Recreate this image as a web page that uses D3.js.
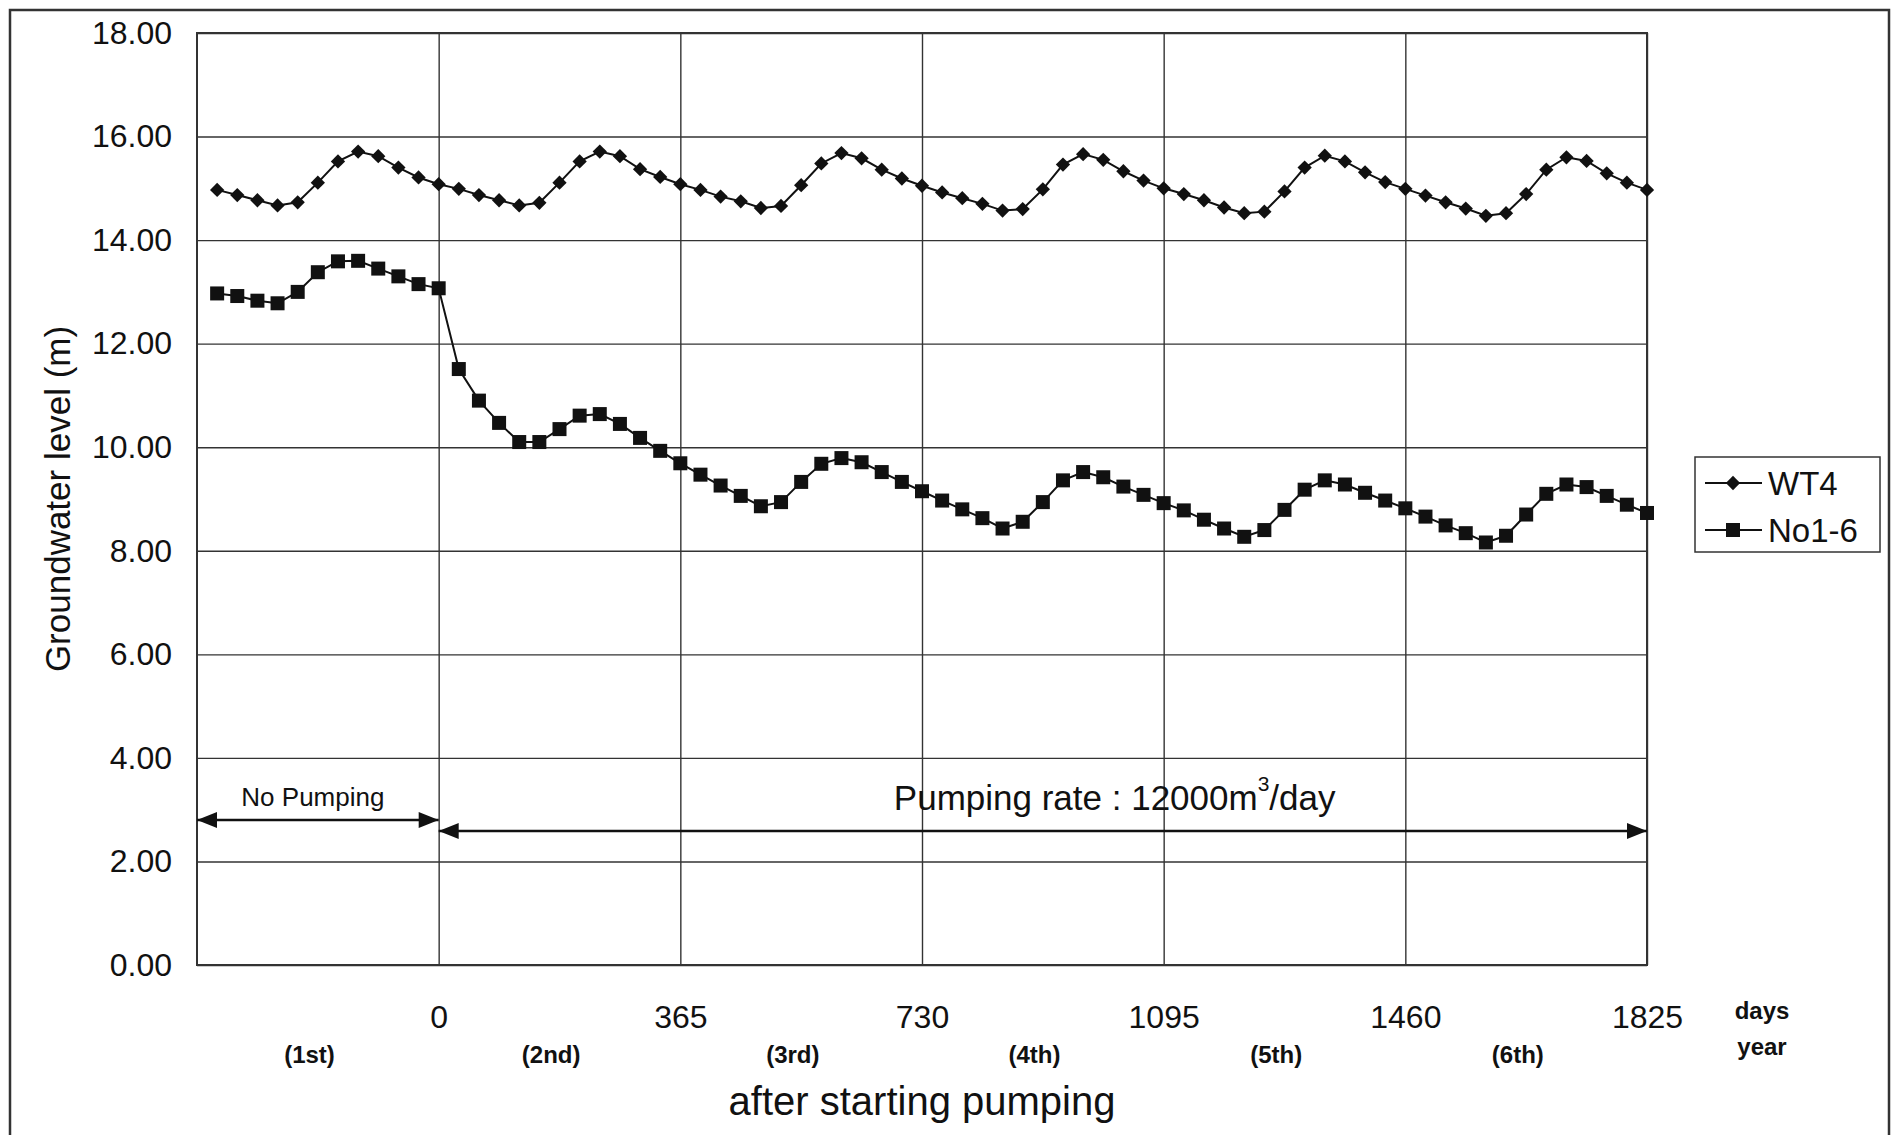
<!DOCTYPE html>
<html>
<head>
<meta charset="utf-8">
<script src="https://cdn.jsdelivr.net/npm/d3@7"></script>
<style>
  body { margin: 0; background: #fff; }
  svg text { font-family: "Liberation Sans", Arial, sans-serif; fill: #111; }
</style>
</head>
<body>
<div id="chart"></div>
<script>
// months relative to start of pumping (month 0 = day 0)
var months = [-11, -10, -9, -8, -7, -6, -5, -4, -3, -2, -1, 0,
  1, 2, 3, 4, 5, 6, 7, 8, 9, 10, 11, 12,
  13, 14, 15, 16, 17, 18, 19, 20, 21, 22, 23, 24,
  25, 26, 27, 28, 29, 30, 31, 32, 33, 34, 35, 36,
  37, 38, 39, 40, 41, 42, 43, 44, 45, 46, 47, 48,
  49, 50, 51, 52, 53, 54, 55, 56, 57, 58, 59, 60];

var wt4 = [14.97, 14.87, 14.77, 14.67, 14.73, 15.11, 15.52, 15.71, 15.62, 15.40, 15.21, 15.08,
  14.99, 14.87, 14.77, 14.67, 14.72, 15.11, 15.52, 15.71, 15.62, 15.37, 15.22, 15.08,
  14.97, 14.84, 14.75, 14.62, 14.66, 15.06, 15.48, 15.68, 15.58, 15.36, 15.19, 15.05,
  14.92, 14.81, 14.70, 14.57, 14.60, 14.98, 15.46, 15.66, 15.55, 15.33, 15.15, 15.00,
  14.89, 14.77, 14.63, 14.52, 14.55, 14.94, 15.40, 15.63, 15.52, 15.31, 15.12, 14.99,
  14.86, 14.73, 14.61, 14.47, 14.52, 14.89, 15.36, 15.60, 15.53, 15.29, 15.11, 14.97];

var no16 = [12.97, 12.92, 12.83, 12.78, 13.00, 13.38, 13.59, 13.60, 13.45, 13.30, 13.15, 13.07,
  11.51, 10.90, 10.47, 10.10, 10.10, 10.35, 10.61, 10.64, 10.45, 10.18, 9.93, 9.69,
  9.47, 9.26, 9.06, 8.86, 8.94, 9.33, 9.68, 9.79, 9.71, 9.52, 9.33, 9.15,
  8.97, 8.80, 8.63, 8.43, 8.56, 8.94, 9.36, 9.52, 9.42, 9.24, 9.08, 8.92,
  8.78, 8.60, 8.43, 8.27, 8.40, 8.79, 9.18, 9.36, 9.28, 9.12, 8.97, 8.82,
  8.66, 8.49, 8.34, 8.16, 8.29, 8.70, 9.10, 9.28, 9.23, 9.06, 8.89, 8.73];

var seriesNames = ["WT4", "No1-6"];
var yTicks = [0, 2, 4, 6, 8, 10, 12, 14, 16, 18];
var xTicks = [0, 365, 730, 1095, 1460, 1825];
var yearLabels = ["(1st)", "(2nd)", "(3rd)", "(4th)", "(5th)", "(6th)"];
var yearStarts = [-365, 0, 365, 730, 1095, 1460];

var W = 1899, H = 1135;
var margin = {left: 197, right: 252, top: 33, bottom: 170};
var plotW = W - margin.left - margin.right;
var plotH = H - margin.top - margin.bottom;

var svg = d3.select('#chart').append('svg')
  .attr('width', W)
  .attr('height', H);

// outer frame (bottom edge runs off the page like in the scan)
svg.append('rect')
  .attr('x', 10).attr('y', 10)
  .attr('width', 1879).attr('height', 1150)
  .attr('fill', 'none')
  .attr('stroke', '#333')
  .attr('stroke-width', 2.5);

var g = svg.append('g')
  .attr('transform', 'translate(' + margin.left + ',' + margin.top + ')');

var x = d3.scaleLinear().domain([-365, 1825]).range([0, plotW]);
var y = d3.scaleLinear().domain([0, 18]).range([plotH, 0]);
var dayOf = function(m) { return m * 365 / 12; };

// y axis + horizontal grid
var yAxis = g.append('g')
  .call(d3.axisLeft(y).tickValues(yTicks).tickFormat(d3.format('.2f'))
    .tickSize(-plotW).tickPadding(25));
yAxis.select('.domain').remove();
yAxis.selectAll('line').attr('stroke', '#333').attr('stroke-width', 1.4);
yAxis.selectAll('text').attr('font-size', 32).style('font-family', '"Liberation Sans", Arial, sans-serif').attr('fill', '#111');

// x axis + vertical grid
var xAxis = g.append('g')
  .attr('transform', 'translate(0,' + plotH + ')')
  .call(d3.axisBottom(x).tickValues(xTicks).tickFormat(d3.format('d'))
    .tickSize(-plotH).tickPadding(40));
xAxis.select('.domain').remove();
xAxis.selectAll('line').attr('stroke', '#333').attr('stroke-width', 1.4);
xAxis.selectAll('text').attr('font-size', 32).style('font-family', '"Liberation Sans", Arial, sans-serif').attr('fill', '#111');

// plot frame
g.append('rect')
  .attr('width', plotW).attr('height', plotH)
  .attr('fill', 'none').attr('stroke', '#333').attr('stroke-width', 2);

// year labels under the axis
g.selectAll('.yr').data(yearLabels).enter().append('text')
  .attr('class', 'yr')
  .attr('x', function(d, i) { return x(yearStarts[i] + 182) - 8; })
  .attr('y', plotH + 98)
  .attr('text-anchor', 'middle')
  .attr('font-size', 24)
  .attr('font-weight', 'bold')
  .text(function(d) { return d; });

g.append('text').attr('x', plotW + 115).attr('y', plotH + 54)
  .attr('text-anchor', 'middle').attr('font-size', 24).attr('font-weight', 'bold').text('days');
g.append('text').attr('x', plotW + 115).attr('y', plotH + 90)
  .attr('text-anchor', 'middle').attr('font-size', 24).attr('font-weight', 'bold').text('year');

g.append('text')
  .attr('x', x(730)).attr('y', plotH + 150)
  .attr('text-anchor', 'middle')
  .attr('font-size', 40)
  .text('after starting pumping');

svg.append('text')
  .attr('transform', 'translate(57,499) rotate(-90)')
  .attr('text-anchor', 'middle')
  .attr('dominant-baseline', 'central')
  .attr('font-size', 35)
  .text('Groundwater level (m)');

// annotation arrows
var arrowLine = function(x1, x2, yv, heads) {
  var yy = y(yv);
  g.append('line')
    .attr('x1', x(x1)).attr('x2', x(x2))
    .attr('y1', yy).attr('y2', yy)
    .attr('stroke', '#111').attr('stroke-width', 2.5);
  heads.forEach(function(h) {
    var px = x(h.at), d = h.dir;
    g.append('path')
      .attr('d', 'M' + px + ',' + yy + 'L' + (px - d * 20) + ',' + (yy - 8) +
        'L' + (px - d * 20) + ',' + (yy + 8) + 'Z')
      .attr('fill', '#111');
  });
};
arrowLine(-365, 0, 2.80, [{at: -365, dir: -1}, {at: 0, dir: 1}]);
arrowLine(0, 1825, 2.59, [{at: 0, dir: -1}, {at: 1825, dir: 1}]);

g.append('text')
  .attr('x', x(-190)).attr('y', y(3.24))
  .attr('text-anchor', 'middle').attr('dominant-baseline', 'central')
  .attr('font-size', 26)
  .text('No Pumping');

var pr = g.append('text')
  .attr('x', x(1021)).attr('y', y(3.24))
  .attr('text-anchor', 'middle').attr('dominant-baseline', 'central')
  .attr('font-size', 35);
pr.append('tspan').text('Pumping rate : 12000m');
pr.append('tspan').attr('font-size', 21).attr('dy', -14).text('3');
pr.append('tspan').attr('dy', 14).text('/day');

// series
var line = d3.line()
  .x(function(d) { return x(dayOf(d.m)); })
  .y(function(d) { return y(d.v); });

var wtData = months.map(function(m, i) { return {m: m, v: wt4[i]}; });
var noData = months.map(function(m, i) { return {m: m, v: no16[i]}; });

g.append('path').datum(wtData)
  .attr('fill', 'none').attr('stroke', '#111').attr('stroke-width', 2)
  .attr('d', line);
g.append('path').datum(noData)
  .attr('fill', 'none').attr('stroke', '#111').attr('stroke-width', 2)
  .attr('d', line);

var diamond = d3.symbol().type(d3.symbolDiamond2).size(130);
g.selectAll('.wt').data(wtData).enter().append('path')
  .attr('class', 'wt')
  .attr('transform', function(d) { return 'translate(' + x(dayOf(d.m)) + ',' + y(d.v) + ')'; })
  .attr('d', diamond)
  .attr('fill', '#111');

g.selectAll('.no').data(noData).enter().append('rect')
  .attr('class', 'no')
  .attr('x', function(d) { return x(dayOf(d.m)) - 7; })
  .attr('y', function(d) { return y(d.v) - 7; })
  .attr('width', 14).attr('height', 14)
  .attr('fill', '#111');

// legend
var leg = svg.append('g').attr('transform', 'translate(1695,457)');
leg.append('rect')
  .attr('width', 185).attr('height', 95)
  .attr('fill', '#fff').attr('stroke', '#333').attr('stroke-width', 1.5);
seriesNames.forEach(function(name, i) {
  var ly = 26 + i * 47;
  leg.append('line').attr('x1', 10).attr('x2', 67).attr('y1', ly).attr('y2', ly)
    .attr('stroke', '#111').attr('stroke-width', 2);
  if (i === 0) {
    leg.append('path').attr('transform', 'translate(38,' + ly + ')')
      .attr('d', diamond).attr('fill', '#111');
  } else {
    leg.append('rect').attr('x', 31).attr('y', ly - 7).attr('width', 14).attr('height', 14)
      .attr('fill', '#111');
  }
  leg.append('text').attr('x', 73).attr('y', ly)
    .attr('dominant-baseline', 'central')
    .attr('font-size', 33)
    .text(name);
});
</script>
</body>
</html>
